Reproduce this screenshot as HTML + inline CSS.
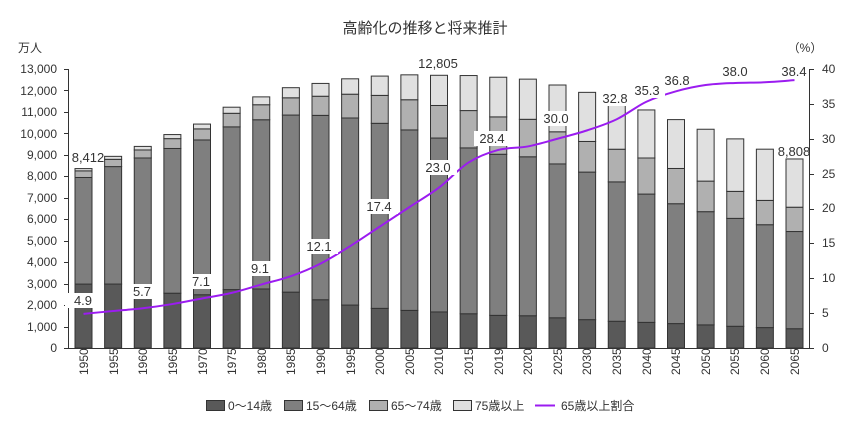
<!DOCTYPE html>
<html><head><meta charset="utf-8"><style>
body{margin:0;background:#fff}
svg{display:block;font-family:"Liberation Sans","Noto Sans CJK JP",sans-serif}
</style></head><body>
<svg id="s" width="850" height="423" viewBox="0 0 850 423">
<text x="425" y="33" font-size="15" text-anchor="middle" fill="#333">高齢化の推移と将来推計</text>
<text x="30" y="52" font-size="12" text-anchor="middle" fill="#333">万人</text>
<text x="805" y="52" font-size="12" text-anchor="middle" fill="#333">（%）</text>
<g id="bars"></g>
<g id="axes" stroke="#333" stroke-width="1"></g>
<path id="line" fill="none" stroke="#9b1cf0" stroke-width="2"/>
<g font-size="12" fill="#333" text-anchor="end">
<text x="57" y="352">0</text><text x="57" y="331">1,000</text><text x="57" y="309">2,000</text><text x="57" y="288">3,000</text><text x="57" y="266">4,000</text><text x="57" y="245">5,000</text><text x="57" y="223">6,000</text><text x="57" y="202">7,000</text><text x="57" y="180">8,000</text><text x="57" y="159">9,000</text><text x="57" y="138">10,000</text><text x="57" y="116">11,000</text><text x="57" y="95">12,000</text><text x="57" y="73">13,000</text>
</g>
<g font-size="12" fill="#333" text-anchor="start">
<text x="822" y="352">0</text><text x="822" y="317">5</text><text x="822" y="282">10</text><text x="822" y="247">15</text><text x="822" y="212">20</text><text x="822" y="178">25</text><text x="822" y="143">30</text><text x="822" y="108">35</text><text x="822" y="73">40</text>
</g>
<g font-size="13" fill="#333" text-anchor="middle" id="vals">
<rect x="65" y="293" width="37" height="15" fill="#fff"/><text x="83" y="305">4.9</text>
<rect x="124" y="284" width="37" height="15" fill="#fff"/><text x="142" y="296">5.7</text>
<rect x="183" y="274" width="37" height="15" fill="#fff"/><text x="201" y="286">7.1</text>
<rect x="242" y="261" width="37" height="15" fill="#fff"/><text x="260" y="273">9.1</text>
<rect x="301" y="239" width="37" height="15" fill="#fff"/><text x="319" y="251">12.1</text>
<rect x="361" y="199" width="37" height="15" fill="#fff"/><text x="379" y="211">17.4</text>
<rect x="420" y="160" width="37" height="15" fill="#fff"/><text x="438" y="172">23.0</text>
<rect x="474" y="131" width="37" height="15" fill="#fff"/><text x="492" y="143">28.4</text>
<rect x="538" y="111" width="37" height="15" fill="#fff"/><text x="556" y="123">30.0</text>
<rect x="597" y="91" width="37" height="15" fill="#fff"/><text x="615" y="103">32.8</text>
<rect x="628" y="83" width="37" height="15" fill="#fff"/><text x="647" y="95">35.3</text>
<text x="677" y="85">36.8</text>
<text x="735" y="76">38.0</text>
<text x="794" y="76">38.4</text>
<text x="88" y="162">8,412</text>
<text x="438" y="68">12,805</text>
<text x="794" y="156">8,808</text>
</g>
<g font-size="12" fill="#333" id="xl">
<text transform="translate(88,375) rotate(-90)">1950</text><text transform="translate(118,375) rotate(-90)">1955</text><text transform="translate(147,375) rotate(-90)">1960</text><text transform="translate(177,375) rotate(-90)">1965</text><text transform="translate(207,375) rotate(-90)">1970</text><text transform="translate(236,375) rotate(-90)">1975</text><text transform="translate(266,375) rotate(-90)">1980</text><text transform="translate(295,375) rotate(-90)">1985</text><text transform="translate(325,375) rotate(-90)">1990</text><text transform="translate(355,375) rotate(-90)">1995</text><text transform="translate(384,375) rotate(-90)">2000</text><text transform="translate(414,375) rotate(-90)">2005</text><text transform="translate(443,375) rotate(-90)">2010</text><text transform="translate(473,375) rotate(-90)">2015</text><text transform="translate(503,375) rotate(-90)">2019</text><text transform="translate(532,375) rotate(-90)">2020</text><text transform="translate(562,375) rotate(-90)">2025</text><text transform="translate(591,375) rotate(-90)">2030</text><text transform="translate(621,375) rotate(-90)">2035</text><text transform="translate(651,375) rotate(-90)">2040</text><text transform="translate(680,375) rotate(-90)">2045</text><text transform="translate(710,375) rotate(-90)">2050</text><text transform="translate(739,375) rotate(-90)">2055</text><text transform="translate(769,375) rotate(-90)">2060</text><text transform="translate(799,375) rotate(-90)">2065</text>
</g>
<g font-size="12" fill="#333" stroke="#333">
<rect x="206.5" y="400.5" width="18" height="10" fill="#595959"/>
<rect x="284.5" y="400.5" width="18" height="10" fill="#7f7f7f"/>
<rect x="369.5" y="400.5" width="18" height="10" fill="#b0b0b0"/>
<rect x="453.5" y="400.5" width="18" height="10" fill="#e0e0e0"/>
<line x1="535" y1="405.5" x2="555" y2="405.5" stroke="#9b1cf0" stroke-width="2"/>
<g stroke="none">
<text x="228" y="410">0～14歳</text>
<text x="306" y="410">15～64歳</text>
<text x="391" y="410">65～74歳</text>
<text x="475" y="410">75歳以上</text>
<text x="561" y="410">65歳以上割合</text>
</g></g>
</svg>
<script>
var d=[[2979,4966,309,106],[2980,5473,338,139],[2807,6047,375,164],[2553,6744,459,189],[2482,7212,516,224],[2722,7581,633,284],[2751,7884,700,366],[2603,8251,804,471],[2249,8590,892,597],[2001,8716,1109,717],[1847,8622,1301,900],[1752,8409,1407,1160],[1680,8103,1517,1407],[1595,7728,1740,1632],[1521,7507,1740,1849],[1503,7406,1747,1872],[1407,7170,1497,2180],[1321,6875,1428,2288],[1246,6494,1522,2260],[1194,5978,1681,2239],[1138,5584,1643,2277],[1077,5275,1424,2417],[1012,5028,1258,2446],[951,4793,1133,2387],[898,4529,1133,2248]];
var p=[4.9,5.3,5.7,6.3,7.1,7.9,9.1,10.3,12.1,14.6,17.4,20.2,23.0,26.6,28.4,28.9,30.0,31.2,32.8,35.3,36.8,37.7,38.0,38.1,38.4];
var cols=["#595959","#7f7f7f","#b0b0b0","#e0e0e0"],NS="http://www.w3.org/2000/svg";
function el(t,a,par){var e=document.createElementNS(NS,t);for(var k in a)e.setAttribute(k,a[k]);par.appendChild(e);return e;}
var B=document.getElementById("bars"),A=document.getElementById("axes");
var k=279/13000,Y0=348;
function cx(i){return 83.5+i*29.625;}
d.forEach(function(r,i){var b=Y0;for(var j=0;j<4;j++){var h=r[j]*k;el("rect",{x:cx(i)-8.5,y:b-h,width:17,height:h,fill:cols[j],stroke:"#333","stroke-width":1},B);b-=h;}});
el("line",{x1:68,y1:Y0+.5,x2:810,y2:Y0+.5},A);
el("line",{x1:68.5,y1:69,x2:68.5,y2:349},A);
el("line",{x1:809.5,y1:69,x2:809.5,y2:349},A);
for(var v=0;v<=13;v++){var y=Math.round(Y0-v*1000*k)+.5;el("line",{x1:64,y1:y,x2:68,y2:y},A);}
for(var v=0;v<=8;v++){var y=Math.round(Y0-v*5*6.975)+.5;el("line",{x1:810,y1:y,x2:814,y2:y},A);}
var pts=p.map(function(v,i){return [cx(i),Y0-v*6.975];});
var s="M"+pts[0][0]+","+pts[0][1];
for(var i=0;i<pts.length-1;i++){var p0=pts[Math.max(0,i-1)],p1=pts[i],p2=pts[i+1],p3=pts[Math.min(pts.length-1,i+2)];
s+=" C"+(p1[0]+(p2[0]-p0[0])/6)+","+(p1[1]+(p2[1]-p0[1])/6)+" "+(p2[0]-(p3[0]-p1[0])/6)+","+(p2[1]-(p3[1]-p1[1])/6)+" "+p2[0]+","+p2[1];}
document.getElementById("line").setAttribute("d",s);
var svg=document.getElementById("s");svg.appendChild(document.getElementById("vals"));
</script>
</body></html>
